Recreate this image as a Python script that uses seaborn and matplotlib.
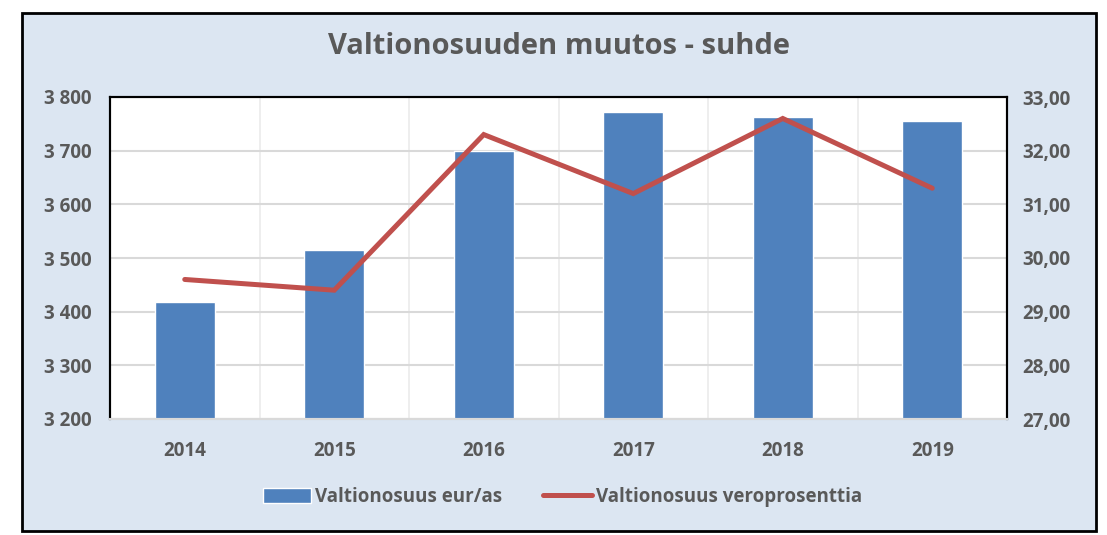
import numpy as np
import matplotlib
matplotlib.use("Agg")
import matplotlib.pyplot as plt
from matplotlib.patches import Rectangle
from matplotlib.lines import Line2D
from matplotlib.ticker import FuncFormatter, MultipleLocator
import seaborn as sns

years = ["2014", "2015", "2016", "2017", "2018", "2019"]
eur_per_as = [3418, 3515, 3700, 3772, 3763, 3756]
veropros = [29.6, 29.4, 32.3, 31.2, 32.6, 31.3]

sns.set_style("white")
plt.rcParams["font.family"] = ["Open Sans", "DejaVu Sans"]

bg = "#DCE6F2"
txt = "#595959"
blue = "#4F81BD"
red = "#C0504D"
fs = 13.5

fig = plt.figure(figsize=(11.07, 5.35), dpi=100)
fig.patch.set_facecolor("white")
# chart area frame
fig.patches.append(Rectangle((22 / 1107, 1 - 531 / 535), (1096 - 22) / 1107, (531 - 13) / 535,
                             transform=fig.transFigure, facecolor=bg, edgecolor="black",
                             linewidth=2, zorder=-10))

ax = fig.add_axes([110 / 1107, 1 - 419 / 535, (1007 - 110) / 1107, (419 - 97) / 535])
ax.set_facecolor("white")
sns.barplot(x=years, y=eur_per_as, color=blue, width=0.4, saturation=1, ax=ax, zorder=2)
ax.set_ylim(3200, 3800)
ax.set_xlim(-0.5, len(years) - 0.5)
ax.yaxis.set_major_locator(MultipleLocator(100))
ax.yaxis.set_major_formatter(FuncFormatter(lambda v, p: f"{int(v):,}".replace(",", " ")))
ax.set_axisbelow(True)
ax.grid(axis="y", color="#D9D9D9", linewidth=1.5)
ax.set_xticks(np.arange(-0.5, len(years), 0.5), minor=True)
ax.grid(axis="x", which="minor", color="#EBEBEB", linewidth=1.2)
ax.tick_params(axis="both", which="both", length=0, colors=txt, labelsize=fs)
ax.tick_params(axis="y", pad=13)
ax.tick_params(axis="x", pad=16)
for lab in ax.get_xticklabels() + ax.get_yticklabels():
    lab.set_fontweight("bold")

ax2 = ax.twinx()
sns.lineplot(x=np.arange(len(years)), y=veropros, color=red, linewidth=3.6, ax=ax2,
             solid_capstyle="round", solid_joinstyle="miter")
ax2.set_ylim(27, 33)
ax2.yaxis.set_major_locator(MultipleLocator(1))
ax2.yaxis.set_major_formatter(FuncFormatter(lambda v, p: f"{v:.2f}".replace(".", ",")))
ax2.tick_params(axis="y", length=0, colors=txt, labelsize=fs, pad=11)
for lab in ax2.get_yticklabels():
    lab.set_fontweight("bold")

for a in (ax, ax2):
    for s in ("left", "top", "right"):
        a.spines[s].set_color("black")
        a.spines[s].set_linewidth(1.5)
    a.spines["bottom"].set_color("#D9D9D9")
    a.spines["bottom"].set_linewidth(1.5)

fig.text(0.505, 1 - 47 / 535, "Valtionosuuden muutos - suhde", ha="center", va="center",
         fontsize=21, fontweight="bold", color=txt)

handles = [Rectangle((0, 0), 1, 1, facecolor=blue),
           Line2D([0], [0], color=red, linewidth=3.6, solid_capstyle="round")]
fig.legend(handles, ["Valtionosuus eur/as", "Valtionosuus veroprosenttia"],
           loc="center", bbox_to_anchor=(0.508, 1 - 497 / 535), ncol=2, frameon=False,
           labelcolor=txt, handlelength=2.6, handleheight=0.8, handletextpad=0.2,
           columnspacing=2.2, prop={"weight": "bold", "size": fs})

fig.savefig("out.png", dpi=100)
